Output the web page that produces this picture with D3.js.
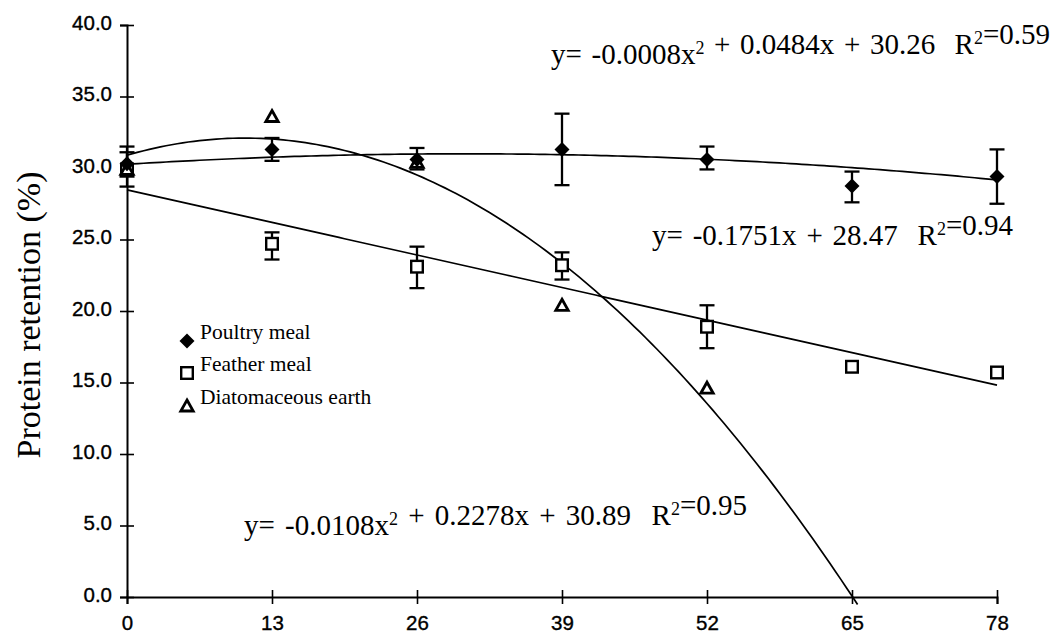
<!DOCTYPE html>
<html>
<head>
<meta charset="utf-8">
<script src="https://cdn.jsdelivr.net/npm/d3@7"></script>
<style>
  body { margin: 0; background: #fff; }
  text { white-space: pre; }
</style>
</head>
<body>
<svg id="chart" width="1055" height="636"></svg>
<script>
// Sampling days and axis ticks
const xTicks = [0, 13, 26, 39, 52, 65, 78];
const yTicks = [0, 5, 10, 15, 20, 25, 30, 35, 40];
const yTickLabels = ["0.0", "5.0", "10.0", "15.0", "20.0", "25.0", "30.0", "35.0", "40.0"];

// Poultry meal: mean protein retention and error-bar limits
const poultryDays = [0, 13, 26, 39, 52, 65, 78];
const poultryMean = [30.3, 31.3, 30.6, 31.3, 30.6, 28.75, 29.4];
const poultryLow  = [29.4, 30.5, 29.9, 28.8, 29.9, 27.6, 27.5];
const poultryHigh = [31.5, 32.1, 31.4, 33.8, 31.5, 29.75, 31.3];

// Feather meal
const featherDays = [0, 13, 26, 39, 52, 65, 78];
const featherMean = [29.9, 24.7, 23.1, 23.2, 18.9, 16.1, 15.7];
const featherLow  = [28.7, 23.6, 21.6, 22.2, 17.4, null, null];
const featherHigh = [31.1, 25.5, 24.5, 24.1, 20.4, null, null];

// Diatomaceous earth
const earthDays = [0, 13, 26, 39, 52];
const earthMean = [29.9, 33.6, 30.4, 20.4, 14.6];

// Fitted trend coefficients [a, b, c] for y = a*x^2 + b*x + c
const poultryFit = [-0.0008, 0.0484, 30.26];
const featherFit = [0, -0.1751, 28.47];
const earthFit   = [-0.0108, 0.2278, 30.89];
const fitRanges  = [[0, 78], [0, 78], [0, 65.5]];
const fitR2      = ["0.59", "0.94", "0.95"];

const seriesNames = ["Poultry meal", "Feather meal", "Diatomaceous earth"];

const svg = d3.select("#chart");
const x = d3.scaleLinear().domain([0, 78]).range([127, 997]);
const y = d3.scaleLinear().domain([0, 40]).range([597, 25]);

const serif = "'Liberation Serif', 'Times New Roman', serif";
const sans = "'Liberation Sans', Arial, sans-serif";

// Axes with ticks that cross the axis line
const yAxis = d3.axisLeft(y).tickValues(yTicks).tickSizeOuter(0).tickSize(7)
  .tickFormat((d, i) => yTickLabels[i]);
const gy = svg.append("g").attr("transform", `translate(${x(0)},0)`).call(yAxis);
gy.select(".domain").attr("stroke", "#000").attr("stroke-width", 2);
gy.selectAll(".tick line").attr("x1", -7).attr("x2", 7).attr("stroke-width", 1.6);
gy.selectAll(".tick text").attr("x", -15).attr("dy", "0.2em")
  .style("font-family", sans).style("font-size", "20.5px").attr("fill", "#000")
  .attr("stroke", "#000").attr("stroke-width", 0.35);

const xAxis = d3.axisBottom(x).tickValues(xTicks).tickSizeOuter(0).tickSize(7);
const gx = svg.append("g").attr("transform", `translate(0,${y(0)})`).call(xAxis);
gx.select(".domain").attr("stroke", "#000").attr("stroke-width", 2);
gx.selectAll(".tick line").attr("y1", -7).attr("y2", 7).attr("stroke-width", 1.6);
gx.selectAll(".tick text").attr("y", 18).attr("dy", "0.71em")
  .style("font-family", sans).style("font-size", "20.5px").attr("fill", "#000")
  .attr("stroke", "#000").attr("stroke-width", 0.35);

// Axis title
svg.append("text")
  .attr("transform", `translate(40,${(y(0) + y(40)) / 2 + 4}) rotate(-90)`)
  .attr("text-anchor", "middle")
  .style("font-family", serif).style("font-size", "34px")
  .text("Protein retention (%)");

// Trend curves from the fitted coefficients
const line = d3.line().x(d => x(d[0])).y(d => y(d[1]));
[poultryFit, featherFit, earthFit].forEach((c, k) => {
  const [lo, hi] = fitRanges[k];
  const pts = d3.range(lo, hi, 0.5).concat([hi]).map(t => [t, c[0] * t * t + c[1] * t + c[2]]);
  svg.append("path").attr("d", line(pts))
    .attr("fill", "none").attr("stroke", "#000").attr("stroke-width", 1.7);
});

// Error bars
function errorBars(days, low, high) {
  const g = svg.append("g").attr("stroke", "#000").attr("stroke-width", 2.3);
  days.forEach((d, i) => {
    if (low[i] == null) return;
    const cx = x(d), y1 = y(low[i]), y2 = y(high[i]);
    g.append("line").attr("x1", cx).attr("x2", cx).attr("y1", y1).attr("y2", y2);
    g.append("line").attr("x1", cx - 7.5).attr("x2", cx + 7.5).attr("y1", y1).attr("y2", y1);
    g.append("line").attr("x1", cx - 7.5).attr("x2", cx + 7.5).attr("y1", y2).attr("y2", y2);
  });
}
errorBars(featherDays, featherLow, featherHigh);
errorBars(poultryDays, poultryLow, poultryHigh);

// Marker shapes
const markers = {
  diamond: g => g.append("path").attr("d", "M0,-7.5L7.5,0L0,7.5L-7.5,0Z").attr("fill", "#000"),
  square: g => g.append("rect").attr("x", -5.8).attr("y", -5.8).attr("width", 11.6).attr("height", 11.6)
    .attr("fill", "#fff").attr("stroke", "#000").attr("stroke-width", 2.4),
  triangle: g => g.append("path").attr("d", "M0,-6L6.2,5L-6.2,5Z")
    .attr("fill", "#fff").attr("stroke", "#000").attr("stroke-width", 2.8).attr("stroke-linejoin", "miter")
};

function points(days, vals, shape) {
  days.forEach((d, i) => {
    const g = svg.append("g").attr("transform", `translate(${x(d)},${y(vals[i])})`);
    markers[shape](g);
  });
}
points(featherDays, featherMean, "square");
points(earthDays, earthMean, "triangle");
points(poultryDays, poultryMean, "diamond");

// Legend
const shapes = ["diamond", "square", "triangle"];
const legendRows = [341, 373, 406];
seriesNames.forEach((name, i) => {
  const g = svg.append("g").attr("transform", `translate(187,${legendRows[i]})`);
  markers[shapes[i]](g);
  svg.append("text").attr("x", 200).attr("y", legendRows[i] - 2.5)
    .style("font-family", serif).style("font-size", "21.5px").text(name);
});

// Regression equations
function equation(parts, x0, base, width) {
  const t = svg.append("text").attr("x", x0).attr("y", base)
    .style("font-family", serif).style("font-size", "29px");
  parts.forEach(p => {
    if (p === "²") {
      t.append("tspan").attr("dy", -10).style("font-size", "18px").text("2");
      t.append("tspan").attr("dy", 10).text("");
    } else {
      t.append("tspan").text(p);
    }
  });
  const w = t.node().getComputedTextLength();
  const spaces = parts.join("").split(" ").length - 1;
  if (spaces > 0) t.style("word-spacing", ((width - w) / spaces) + "px");
}
const fmt = v => String(v);
equation(["y= " + fmt(poultryFit[0]) + "x", "²", " + " + fmt(poultryFit[1]) + "x + " + fmt(poultryFit[2]) + "  R", "²", "=" + fitR2[0]], 551, 64, 499);
equation(["y= " + fmt(featherFit[1]) + "x + " + fmt(featherFit[2]) + "  R", "²", "=" + fitR2[1]], 652, 245, 361);
equation(["y= " + fmt(earthFit[0]) + "x", "²", " + " + fmt(earthFit[1]) + "x + " + fmt(earthFit[2]) + "  R", "²", "=" + fitR2[2]], 244, 535, 503);
</script>
</body>
</html>
